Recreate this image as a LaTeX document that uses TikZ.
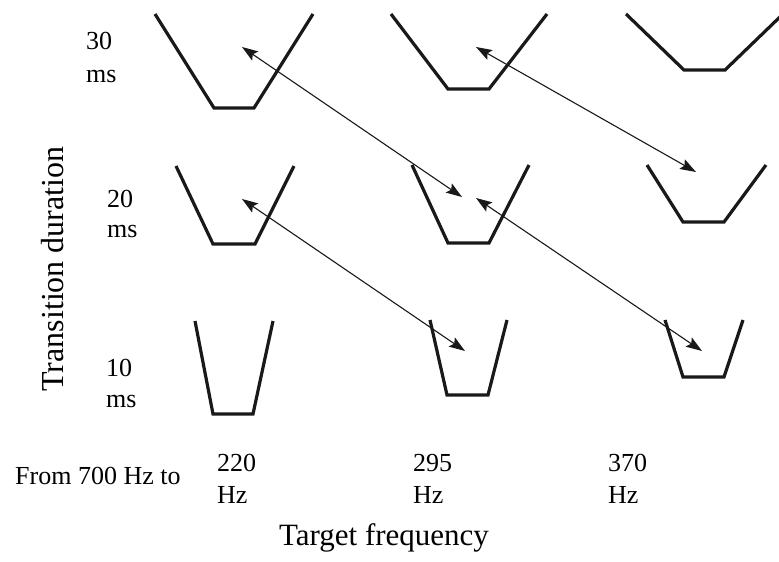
\documentclass[tikz,border=0pt]{standalone}
\usepackage{fontspec}
\setmainfont{Liberation Serif}
\usetikzlibrary{arrows.meta}
\begin{document}
\begin{tikzpicture}[x=1pt,y=-1pt,
  cup/.style={line width=3.2pt,line join=miter,black!90},
  link/.style={line width=1.1pt,black!90,{Stealth[length=16pt,width=11pt,inset=3pt]}-{Stealth[length=16pt,width=11pt,inset=3pt]}},
  tick/.style={inner sep=0pt,anchor=base west,font=\fontsize{26}{30}\selectfont},
  axis/.style={inner sep=0pt,anchor=base,font=\fontsize{31}{36}\selectfont}]
\useasboundingbox[fill=white] (0,0) rectangle (779,562);
\clip (0,0) rectangle (779,562);
% cups
\draw[cup] (155,14) -- (214,108) -- (254,108) -- (313,14);
\draw[cup] (391,14) -- (448,89) -- (489,89) -- (547,14);
\draw[cup] (626,14) -- (684,70) -- (725,70) -- (783,14);
\draw[cup] (176,166) -- (213,244) -- (255,244) -- (294,166);
\draw[cup] (412,165) -- (448,243) -- (489,243) -- (529,165);
\draw[cup] (647,165) -- (683,222) -- (724,222) -- (766,165);
\draw[cup] (195,321) -- (213,414) -- (253,414) -- (273,321);
\draw[cup] (430,320) -- (447,395) -- (488,395) -- (507,320);
\draw[cup] (665,320) -- (683,377) -- (724,377) -- (743,320);
% arrow end points
\coordinate (p1) at (242,47);
\coordinate (p2) at (476,47);
\coordinate (p4) at (242,199);
\coordinate (p5a) at (462,197);
\coordinate (p5b) at (476,198);
\coordinate (p6) at (696,172);
\coordinate (p8) at (465,351);
\coordinate (p9) at (702,351);
\draw[link] (p1) -- (p5a);
\draw[link] (p2) -- (p6);
\draw[link] (p4) -- (p8);
\draw[link] (p5b) -- (p9);
% duration labels
\node[tick] (d30) at (86,49) {30};
\node[tick] (d30u) at (86,82) {ms};
\node[tick] (d20) at (107,207) {20};
\node[tick] (d20u) at (107,237) {ms};
\node[tick] (d10) at (106,376) {10};
\node[tick] (d10u) at (106,407) {ms};
% frequency labels
\node[tick] (from) at (15,484) {From 700 Hz to};
\node[tick] (f220) at (217,471) {220};
\node[tick] (f220u) at (217,503) {Hz};
\node[tick] (f295) at (413,471) {295};
\node[tick] (f295u) at (413,503) {Hz};
\node[tick] (f370) at (608,471) {370};
\node[tick] (f370u) at (608,503) {Hz};
% axis titles
\node[axis] (xt) at (384,545) {Target frequency};
\node[axis,rotate=90,font=\fontsize{32}{36}\selectfont] (yt) at (63,269) {Transition duration};
\end{tikzpicture}
\end{document}
